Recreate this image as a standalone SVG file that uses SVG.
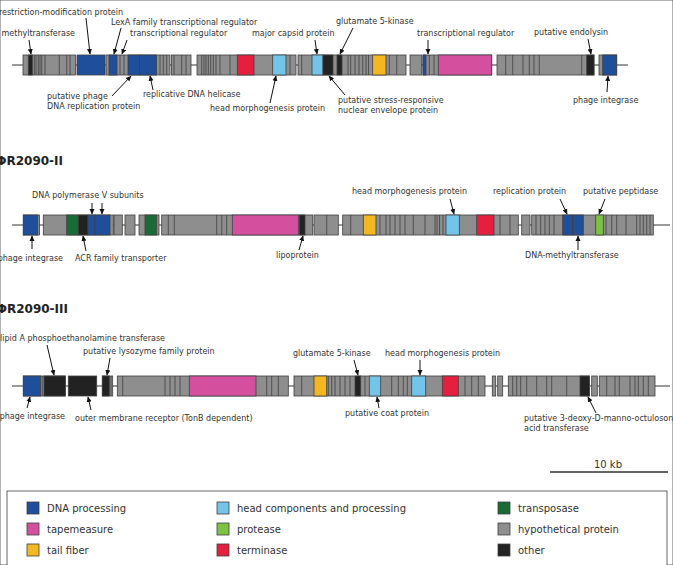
<svg xmlns="http://www.w3.org/2000/svg" width="673" height="565" viewBox="0 0 673 565">
<style>
text{font-family:"DejaVu Sans","Noto Sans",sans-serif;fill:#333}
.lb{font-size:8px}
.tt{font-size:12px;font-weight:bold;fill:#222}
.lg{font-size:10px}
rect{stroke:#404040;stroke-width:0.8}
.h{fill:#8e8e8e}.d{fill:#1f4e9a}.l{fill:#74c4ea}.t{fill:#1b6b36}.p{fill:#d54f9f}.r{fill:#7dc242}.y{fill:#f3b821}.x{fill:#e41f40}.o{fill:#222}
.sep{stroke:#404040;stroke-width:0.8;fill:none}
.gl{stroke:#7a7a7a;stroke-width:1.5;fill:none}
.ar{stroke:#111;stroke-width:1;fill:none;marker-end:url(#ah)}
</style>
<defs>
<marker id="ah" markerUnits="userSpaceOnUse" markerWidth="6" markerHeight="6" refX="5" refY="3" orient="auto">
<path d="M0,0.5 L5.5,3 L0,5.5 z" fill="#111"/>
</marker>
</defs>
<rect width="673" height="565" fill="#fff" stroke="none"/>

<!-- Track 1 -->
<g id="track1">
<path class="gl" d="M12 65H628"/>
<g id="t1a"><rect class="h" x="23" y="55" width="52.5" height="20"/><rect class="o" x="28.3" y="55" width="4" height="20"/><path class="sep" d="M34.3 55v20M36 55v20M38.3 55v20M40 55v20M41.7 55v20M45 55v20M59.3 55v20M66.7 55v20M70 55v20"/></g>
<g id="t1b"><rect class="d" x="77" y="55" width="28" height="20"/></g>
<g id="t1c"><rect class="h" x="106" y="55" width="64" height="20"/><rect class="d" x="109" y="55" width="8" height="20"/><rect class="d" x="128" y="55" width="11.5" height="20"/><rect class="d" x="139.5" y="55" width="17" height="20"/><path class="sep" d="M120 55v20M124 55v20M160 55v20M163.3 55v20M166.7 55v20"/></g>
<g id="t1d"><rect class="h" x="171.5" y="55" width="19.5" height="20"/><path class="sep" d="M174 55v20M181.7 55v20M186 55v20"/></g>
<g id="t1e"><rect class="h" x="197" y="55" width="99" height="20"/><rect class="x" x="237.3" y="55" width="16.7" height="20"/><rect class="l" x="272.7" y="55" width="13.3" height="20"/><path class="sep" d="M201.7 55v20M204 55v20M206 55v20M208.3 55v20M210.7 55v20M213.3 55v20M216 55v20M220 55v20M230 55v20M290 55v20"/></g>
<g id="t1f"><rect class="h" x="298" y="55" width="108" height="20"/><rect class="l" x="312" y="55" width="11" height="20"/><rect class="o" x="323" y="55" width="10" height="20"/><rect class="o" x="337" y="55" width="5" height="20"/><rect class="y" x="372.7" y="55" width="13.3" height="20"/><path class="sep" d="M301.7 55v20M348 55v20M350.7 55v20M355 55v20M359 55v20M362.7 55v20M366 55v20M368.5 55v20M389.3 55v20M396.7 55v20"/></g>
<g id="t1g"><rect class="h" x="410" y="55" width="11.7" height="20"/></g>
<g id="t1h"><rect class="h" x="423" y="55" width="68.7" height="20"/><rect class="d" x="423" y="55" width="3" height="20"/><rect class="p" x="438.3" y="55" width="53.4" height="20"/><path class="sep" d="M429.3 55v20M434 55v20"/></g>
<g id="t1i"><rect class="h" x="497" y="55" width="97" height="20"/><rect class="o" x="586.7" y="55" width="7.3" height="20"/><path class="sep" d="M505.7 55v20M512.7 55v20M523 55v20M529.3 55v20M534 55v20M539.3 55v20M581.7 55v20"/></g>
<g id="t1j"><rect class="h" x="599" y="55" width="17.7" height="20"/><rect class="d" x="602.7" y="55" width="14" height="20"/></g>
</g>

<g id="labels1">
<text class="lb" x="123" y="15" text-anchor="end">restriction-modification protein</text>
<text class="lb" x="75" y="36" text-anchor="end">methyltransferase</text>
<text class="lb" x="111" y="25">LexA family transcriptional regulator</text>
<text class="lb" x="130" y="36">transcriptional regulator</text>
<text class="lb" x="252" y="36">major capsid protein</text>
<text class="lb" x="336" y="24">glutamate 5-kinase</text>
<text class="lb" x="417" y="36">transcriptional regulator</text>
<text class="lb" x="534" y="35">putative endolysin</text>
<text class="lb" x="47" y="99">putative phage</text>
<text class="lb" x="47" y="109">DNA replication protein</text>
<text class="lb" x="143" y="97">replicative DNA helicase</text>
<text class="lb" x="210" y="111">head morphogenesis protein</text>
<text class="lb" x="338" y="103">putative stress-responsive</text>
<text class="lb" x="338" y="113">nuclear envelope protein</text>
<text class="lb" x="573" y="103">phage integrase</text>
</g>

<!-- Track 2 -->
<text id="title2" class="tt" x="63" y="165" text-anchor="end">ΦR2090-II</text>
<g id="track2">
<path class="gl" d="M12 225H670"/>
<g id="t2a"><rect class="h" x="23.3" y="215" width="16.2" height="20"/><rect class="d" x="23.3" y="215" width="14.4" height="20"/></g>
<g id="t2b"><rect class="h" x="43.3" y="215" width="70" height="20"/><rect class="t" x="66.7" y="215" width="11.6" height="20"/><rect class="o" x="78.3" y="215" width="9.7" height="20"/><rect class="d" x="88" y="215" width="7" height="20"/><rect class="d" x="95" y="215" width="15" height="20"/></g>
<g id="t2c"><rect class="h" x="114" y="215" width="8.3" height="20"/></g>
<g id="t2d"><rect class="h" x="125" y="215" width="10" height="20"/></g>
<g id="t2e"><rect class="h" x="139" y="215" width="20" height="20"/><rect class="t" x="145" y="215" width="11.7" height="20"/></g>
<g id="t2f"><rect class="h" x="161.7" y="215" width="151" height="20"/><rect class="p" x="232.3" y="215" width="66" height="20"/><rect class="o" x="299.3" y="215" width="5.7" height="20"/><path class="sep" d="M168.3 215v20M174.3 215v20M216.7 215v20M221.7 215v20M226.7 215v20"/></g>
<g id="t2g"><rect class="h" x="314" y="215" width="24.3" height="20"/><path class="sep" d="M326.7 215v20"/></g>
<g id="t2h"><rect class="h" x="342.7" y="215" width="175.6" height="20"/><rect class="y" x="363.3" y="215" width="12.7" height="20"/><rect class="l" x="446" y="215" width="13.3" height="20"/><rect class="x" x="476.7" y="215" width="17.3" height="20"/><path class="sep" d="M350.7 215v20M380 215v20M386 215v20M390 215v20M395 215v20M400 215v20M405 215v20M413.3 215v20M425 215v20M435 215v20M437 215v20M439.5 215v20M443 215v20M500 215v20M510 215v20"/></g>
<g id="t2i"><rect class="h" x="521.7" y="215" width="8.3" height="20"/></g>
<g id="t2j"><rect class="h" x="531.7" y="215" width="121.6" height="20"/><rect class="d" x="562.7" y="215" width="10" height="20"/><rect class="d" x="572.7" y="215" width="10.6" height="20"/><rect class="r" x="595.7" y="215" width="7.6" height="20"/><path class="sep" d="M536 215v20M540.7 215v20M545 215v20M549.3 215v20M554 215v20M606 215v20M611.7 215v20M616.7 215v20M626 215v20M636.7 215v20M640 215v20M643.3 215v20M646.7 215v20M650 215v20"/></g>
</g>

<g id="labels2">
<text class="lb" x="32" y="198">DNA polymerase V subunits</text>
<text class="lb" x="63" y="261" text-anchor="end">phage integrase</text>
<text class="lb" x="75" y="261">ACR family transporter</text>
<text class="lb" x="276" y="258">lipoprotein</text>
<text class="lb" x="352" y="194">head morphogenesis protein</text>
<text class="lb" x="493" y="194">replication protein</text>
<text class="lb" x="583" y="194">putative peptidase</text>
<text class="lb" x="525" y="258">DNA-methyltransferase</text>
</g>

<!-- Track 3 -->
<text id="title3" class="tt" x="68" y="313" text-anchor="end">ΦR2090-III</text>
<g id="track3">
<path class="gl" d="M12 386H670"/>
<g id="t3a"><rect class="h" x="23.3" y="376" width="42" height="20"/><rect class="d" x="23.3" y="376" width="17.4" height="20"/><rect class="o" x="44" y="376" width="21.3" height="20"/><path class="sep" d="M42.3 376v20"/></g>
<g id="t3b"><rect class="o" x="68.3" y="376" width="28.4" height="20"/></g>
<g id="t3c"><rect class="h" x="102.3" y="376" width="10.4" height="20"/><rect class="o" x="102.3" y="376" width="7" height="20"/><path class="sep" d="M111 376v20"/></g>
<g id="t3d"><rect class="h" x="117.3" y="376" width="171" height="20"/><rect class="p" x="189.3" y="376" width="66.7" height="20"/><path class="sep" d="M122.7 376v20M165 376v20M170 376v20M175 376v20M180 376v20M266.7 376v20M271.7 376v20M278.3 376v20"/></g>
<g id="t3e"><rect class="h" x="294" y="376" width="191" height="20"/><rect class="y" x="314" y="376" width="12.7" height="20"/><rect class="o" x="355" y="376" width="5.7" height="20"/><rect class="l" x="369.3" y="376" width="11.4" height="20"/><rect class="l" x="411.7" y="376" width="14" height="20"/><rect class="x" x="442.3" y="376" width="16" height="20"/><path class="sep" d="M301.7 376v20M328.3 376v20M331.7 376v20M335 376v20M340 376v20M345 376v20M350 376v20M365 376v20M391.7 376v20M398.3 376v20M403.3 376v20M407.3 376v20M465 376v20M471.7 376v20M478.3 376v20"/></g>
<g id="t3f"><rect class="h" x="492.3" y="376" width="3.4" height="20"/></g>
<g id="t3g"><rect class="h" x="497.7" y="376" width="5" height="20"/></g>
<g id="t3h"><rect class="h" x="508.3" y="376" width="81" height="20"/><rect class="o" x="580" y="376" width="9.3" height="20"/><path class="sep" d="M512.7 376v20M516.7 376v20M520.7 376v20M526.7 376v20M536.7 376v20M546.7 376v20M551.7 376v20M566.7 376v20"/></g>
<g id="t3i"><rect class="h" x="591.7" y="376" width="5.6" height="20"/></g>
<g id="t3j"><rect class="h" x="599.3" y="376" width="55.7" height="20"/><path class="sep" d="M606.7 376v20M615 376v20M619.3 376v20M630 376v20M635 376v20M638.3 376v20M643.3 376v20M648.3 376v20"/></g>
</g>

<g id="labels3">
<text class="lb" x="165" y="341" text-anchor="end">lipid A phosphoethanolamine transferase</text>
<text class="lb" x="83" y="354">putative lysozyme family protein</text>
<text class="lb" x="293" y="356">glutamate 5-kinase</text>
<text class="lb" x="385" y="356">head morphogenesis protein</text>
<text class="lb" x="65" y="419" text-anchor="end">phage integrase</text>
<text class="lb" x="75" y="421">outer membrane receptor (TonB dependent)</text>
<text class="lb" x="345" y="416">putative coat protein</text>
<text class="lb" x="524" y="421">putative 3-deoxy-D-manno-octulosonic</text>
<text class="lb" x="524" y="431">acid transferase</text>
</g>

<!-- Connectors -->
<g id="connectors">
<path class="ar" d="M86 18L90 54"/>
<path class="ar" d="M29 40L31 54"/>
<path class="ar" d="M121 28L114 54"/>
<path class="ar" d="M127 40L122 54"/>
<path class="ar" d="M112 96L131 76"/>
<path class="ar" d="M153 90L150 76"/>
<path class="ar" d="M270 103L276 76"/>
<path class="ar" d="M315 40L317 54"/>
<path class="ar" d="M353 28L340 54"/>
<path class="ar" d="M345 95L329 76"/>
<path class="ar" d="M428 40L428 54"/>
<path class="ar" d="M588 39L591 54"/>
<path class="ar" d="M607 92L608 76"/>
<path class="ar" d="M92 203L92 214"/>
<path class="ar" d="M102 203L102 214"/>
<path class="ar" d="M32 249L32 236"/>
<path class="ar" d="M86 251L83 236"/>
<path class="ar" d="M299 250L303 236"/>
<path class="ar" d="M450 199L454 214"/>
<path class="ar" d="M560 199L567 214"/>
<path class="ar" d="M605 199L599 214"/>
<path class="ar" d="M578 250L578 236"/>
<path class="ar" d="M47 345L54 375"/>
<path class="ar" d="M110 358L107 375"/>
<path class="ar" d="M354 360L358 375"/>
<path class="ar" d="M420 360L420 375"/>
<path class="ar" d="M27 408L30 397"/>
<path class="ar" d="M91 410L88 397"/>
<path class="ar" d="M379 408L377 397"/>
<path class="ar" d="M596 413L588 397"/>
</g>

<!-- Scale bar -->
<g id="scalebar">
<text class="lg" x="608" y="468" text-anchor="middle">10 kb</text>
<path d="M550 472H668" stroke="#333" stroke-width="1.5"/>
</g>

<!-- Legend -->
<g id="legend">
<rect x="7" y="491" width="660" height="80" fill="#fff" stroke="#555" stroke-width="1"/>
<rect class="d" x="27" y="502" width="12" height="12"/><text class="lg" x="47" y="511.5">DNA processing</text>
<rect class="p" x="27" y="523" width="12" height="12"/><text class="lg" x="47" y="532.5">tapemeasure</text>
<rect class="y" x="27" y="544" width="12" height="12"/><text class="lg" x="47" y="553.5">tail fiber</text>
<rect class="l" x="217" y="502" width="12" height="12"/><text class="lg" x="237" y="511.5">head components and processing</text>
<rect class="r" x="217" y="523" width="12" height="12"/><text class="lg" x="237" y="532.5">protease</text>
<rect class="x" x="217" y="544" width="12" height="12"/><text class="lg" x="237" y="553.5">terminase</text>
<rect class="t" x="498" y="502" width="12" height="12"/><text class="lg" x="518" y="511.5">transposase</text>
<rect class="h" x="498" y="523" width="12" height="12"/><text class="lg" x="518" y="532.5">hypothetical protein</text>
<rect class="o" x="498" y="544" width="12" height="12"/><text class="lg" x="518" y="553.5">other</text>
</g>
</svg>
